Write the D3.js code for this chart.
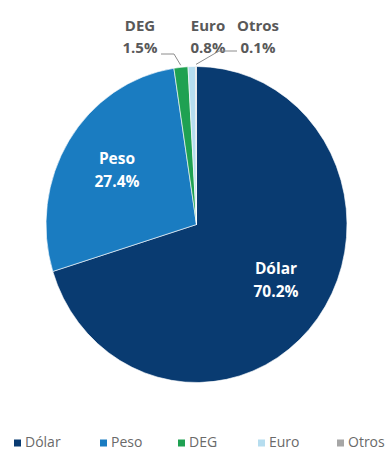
<!DOCTYPE html>
<html>
<head>
<meta charset="utf-8">
<script src="https://cdn.jsdelivr.net/npm/d3@7/dist/d3.min.js"></script>
<style>
  html, body { margin: 0; padding: 0; background: #ffffff; }
  svg { display: block; }
</style>
</head>
<body>
<svg id="chart" width="390" height="450"></svg>
<script>
// Composición por moneda (% del total)
const categories = ["Dólar", "Peso", "DEG", "Euro", "Otros"];
const shares = [70.2, 27.4, 1.5, 0.8, 0.1];
const colors = ["#093b71", "#1a7cc1", "#1fa152", "#b6ddef", "#a6a6a6"];

const W = 390, H = 450;
const cx = 196.5, cy = 224.5;
const radius = 150.5;
const yStretch = 1.05;

const svg = d3.select("#chart");

const pie = d3.pie().sort(null).value(d => d);
const arcs = pie(shares);
const arc = d3.arc().innerRadius(0).outerRadius(radius);

const g = svg.append("g")
  .attr("transform", `translate(${cx},${cy}) scale(1,${yStretch})`);

g.selectAll("path.slice")
  .data(arcs)
  .join("path")
  .attr("class", "slice")
  .attr("d", arc)
  .attr("fill", (d, i) => colors[i])
  .attr("stroke", "#ffffff")
  .attr("stroke-width", 0.6)
  .attr("stroke-linejoin", "round");

const fmt = v => d3.format(".1f")(v) + "%";

// point on the (stretched) rim at the middle of a slice
function rimPoint(a, extra) {
  const ang = (a.startAngle + a.endAngle) / 2;
  const r = radius + extra;
  return [cx + r * Math.sin(ang), cy - r * Math.cos(ang) * yStretch];
}

// labels inside the two large slices
const insideLabels = [
  { i: 0, x: 276, y: 274 },
  { i: 1, x: 117, y: 164 }
];
insideLabels.forEach(l => {
  const t = svg.append("text")
    .attr("text-anchor", "middle")
    .attr("font-family", "'Open Sans', 'Liberation Sans', sans-serif")
    .attr("font-weight", "bold")
    .attr("font-size", 15.5)
    .attr("fill", "#ffffff");
  t.append("tspan").attr("x", l.x).attr("y", l.y).text(categories[l.i]);
  t.append("tspan").attr("x", l.x).attr("y", l.y + 23).text(fmt(shares[l.i]));
});

// labels above the small slices
const outsideLabels = [
  { i: 2, x: 140, y: 31 },
  { i: 3, x: 208, y: 31 },
  { i: 4, x: 258, y: 31 }
];
outsideLabels.forEach(l => {
  const t = svg.append("text")
    .attr("text-anchor", "middle")
    .attr("font-family", "'Open Sans', 'Liberation Sans', sans-serif")
    .attr("font-weight", "bold")
    .attr("font-size", 15)
    .attr("fill", "#595959");
  t.append("tspan").attr("x", l.x).attr("y", l.y).text(categories[l.i]);
  t.append("tspan").attr("x", l.x).attr("y", l.y + 22).text(fmt(shares[l.i]));
});

// leader lines from the thin slices to their labels
const leaders = [
  { i: 2, elbow: [174, 54], end: [161, 54] },
  { i: 4, elbow: [219, 51], end: [237, 51] }
];
leaders.forEach(l => {
  const p = rimPoint(arcs[l.i], 2);
  svg.append("path")
    .attr("d", d3.line()([p, l.elbow, l.end]))
    .attr("fill", "none")
    .attr("stroke", "#8c8c8c")
    .attr("stroke-width", 1);
});

// legend
const legendX = [14, 100, 178, 258, 337];
const legend = svg.append("g");
categories.forEach((c, i) => {
  const it = legend.append("g").attr("transform", `translate(${legendX[i]},447)`);
  it.append("rect")
    .attr("x", 0).attr("y", -7.5)
    .attr("width", 7).attr("height", 7)
    .attr("fill", colors[i]);
  it.append("text")
    .attr("x", 11).attr("y", 0)
    .attr("font-family", "'Open Sans', 'Liberation Sans', sans-serif")
    .attr("font-size", 14)
    .attr("fill", "#6a6a6a")
    .text(c);
});
</script>
</body>
</html>
